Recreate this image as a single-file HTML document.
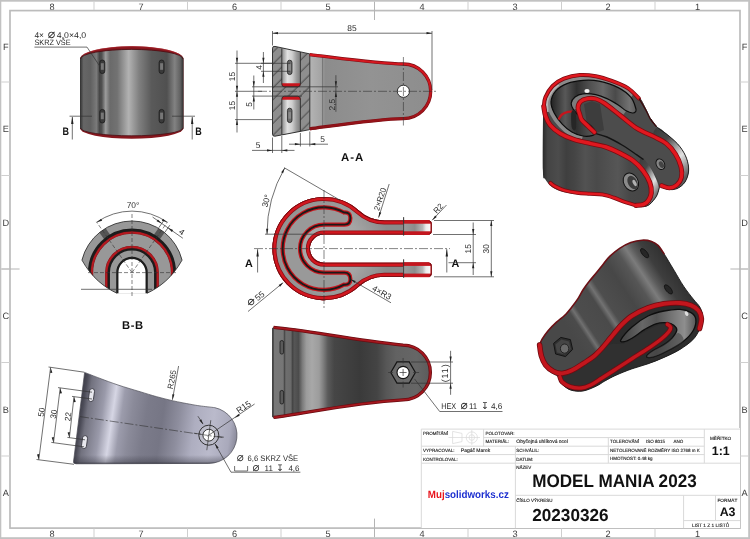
<!DOCTYPE html>
<html lang="cs">
<head>
<meta charset="utf-8">
<title>MODEL MANIA 2023 - 20230326</title>
<style>
html,body{margin:0;padding:0;background:#fff;}
body{width:750px;height:539px;overflow:hidden;}
svg{display:block;font-family:"Liberation Sans",sans-serif;will-change:transform;text-rendering:geometricPrecision;}
.t{fill:#2a2a2a;}
.sy{fill:#2a2a2a;font-family:"DejaVu Sans","Liberation Sans",sans-serif;}
.tb{fill:#111;font-weight:bold;}
.z{fill:#3c3c3c;}
.d{stroke:#333;stroke-width:.7;fill:none;}
.dl{stroke:#555;stroke-width:.55;fill:none;}
.c{stroke:#333;stroke-width:.6;fill:none;stroke-dasharray:9 2 2 2;}
.h{stroke:#333;stroke-width:.6;fill:none;stroke-dasharray:4 2;}
.tl{stroke:#d9d9d9;stroke-width:1;fill:none;}
.fr{stroke:#bcbcbc;fill:none;}
.s{fill:#1a1a1a;font-size:4.5px;stroke:#1a1a1a;stroke-width:.12;}
</style>
</head>
<body>
<svg width="750" height="539" viewBox="0 0 750 539">
<defs>
<linearGradient id="gv1" x1="80" x2="183.5" y1="0" y2="0" gradientUnits="userSpaceOnUse">
<stop offset="0" stop-color="#303030"/><stop offset=".035" stop-color="#666"/><stop offset=".1" stop-color="#606060"/>
<stop offset=".16" stop-color="#7a7a7a"/><stop offset=".188" stop-color="#474747"/><stop offset=".21" stop-color="#505050"/>
<stop offset=".248" stop-color="#9c9c9c"/><stop offset=".29" stop-color="#6a6a6a"/><stop offset=".36" stop-color="#727272"/>
<stop offset=".47" stop-color="#b2b2b2"/><stop offset=".57" stop-color="#808080"/><stop offset=".69" stop-color="#5a5a5a"/>
<stop offset=".84" stop-color="#505050"/><stop offset=".915" stop-color="#828282"/><stop offset=".97" stop-color="#606060"/>
<stop offset="1" stop-color="#2e2e2e"/></linearGradient>
<pattern id="hat" width="8.4" height="8.4" patternUnits="userSpaceOnUse" patternTransform="rotate(-45)">
<rect width="8.4" height="8.4" fill="#8e8e8e"/><line x1="0" y1="3" x2="8.4" y2="3" stroke="#2b2b2b" stroke-width=".7"/></pattern>
<linearGradient id="gaa" x1="310" x2="432" y1="0" y2="0" gradientUnits="userSpaceOnUse">
<stop offset="0" stop-color="#b4b4b4"/><stop offset=".09" stop-color="#a4a4a4"/><stop offset=".125" stop-color="#8c8c8c"/>
<stop offset=".5" stop-color="#939393"/><stop offset="1" stop-color="#8d8d8d"/></linearGradient>
<linearGradient id="gslot" x1="281.8" x2="300.4" y1="0" y2="0" gradientUnits="userSpaceOnUse">
<stop offset="0" stop-color="#8a8a8a"/><stop offset=".3" stop-color="#e2e2e2"/><stop offset=".55" stop-color="#cfcfcf"/>
<stop offset=".8" stop-color="#9a9a9a"/><stop offset="1" stop-color="#7c7c7c"/></linearGradient>
<linearGradient id="grim" x1="0" x2="0" y1="56" y2="128" gradientUnits="userSpaceOnUse">
<stop offset="0" stop-color="#d6171f"/><stop offset=".45" stop-color="#cc161e"/><stop offset=".75" stop-color="#a8141b"/><stop offset="1" stop-color="#8c1218"/></linearGradient>
<clipPath id="caa"><path d="M272.5,48.2 Q272.5,46 275,46.4 L309.8,53.9 L309.8,129.6 L275,136.2 Q272.5,136.5 272.5,134.2Z"/></clipPath>
<clipPath id="cbb"><path d="M81.93,260.12 A51.6,51.6 0 0 1 182.07,260.12 C172,278 160,287 147,293.3 L117,293.3 C104,287 92,278 81.93,260.12Z"/></clipPath>
<radialGradient id="gtop" cx="330" cy="248.6" r="60" gradientUnits="userSpaceOnUse">
<stop offset="0" stop-color="#b0b0b0"/><stop offset=".55" stop-color="#a4a4a4"/><stop offset="1" stop-color="#8a8a8a"/></radialGradient>
<linearGradient id="gleg" x1="403.6" x2="431.6" y1="0" y2="0" gradientUnits="userSpaceOnUse">
<stop offset="0" stop-color="#9c9c9c"/><stop offset=".4" stop-color="#8c8c8c"/><stop offset=".68" stop-color="#b8b8b8"/><stop offset=".8" stop-color="#ececec"/><stop offset=".93" stop-color="#f7f7f7"/><stop offset="1" stop-color="#e9b4b4"/></linearGradient>
<clipPath id="ctop"><path d="M428.4,220.5 L384.33,220.5 A37.6,37.6 0 0 1 358.9,210.59 A51.6,51.6 0 1 0 358.9,286.61 A37.6,37.6 0 0 1 384.33,276.8 L428.4,276.8 Q431.6,276.8 431.6,273.6 L431.6,265.9 Q431.6,262.7 428.4,262.7 L324,262.7 A14.1,14.1 0 0 1 324,234.5 L428.4,234.5 Q431.6,234.5 431.6,231.3 L431.6,223.7 Q431.6,220.5 428.4,220.5Z"/></clipPath>
<linearGradient id="gside" x1="77" x2="239" y1="414" y2="438" gradientUnits="userSpaceOnUse">
<stop offset="0" stop-color="#383842"/><stop offset=".03" stop-color="#4c4c58"/><stop offset=".06" stop-color="#72727f"/>
<stop offset=".15" stop-color="#9a9aaa"/><stop offset=".215" stop-color="#d6d6e4"/><stop offset=".27" stop-color="#9c9cac"/>
<stop offset=".33" stop-color="#8b8b9a"/><stop offset=".42" stop-color="#7b7b8a"/><stop offset=".52" stop-color="#767685"/>
<stop offset=".62" stop-color="#8e8e9e"/><stop offset=".72" stop-color="#aeaec0"/><stop offset=".83" stop-color="#babacb"/>
<stop offset=".94" stop-color="#a9a9bb"/><stop offset="1" stop-color="#808090"/></linearGradient>
<linearGradient id="gsideb" x1="0" x2="0" y1="455" y2="464.5" gradientUnits="userSpaceOnUse">
<stop offset="0" stop-color="#30303a" stop-opacity="0"/><stop offset=".7" stop-color="#30303a" stop-opacity=".35"/><stop offset="1" stop-color="#30303a" stop-opacity=".9"/></linearGradient>
<linearGradient id="gbot" x1="272.3" x2="431" y1="0" y2="0" gradientUnits="userSpaceOnUse">
<stop offset="0" stop-color="#333"/><stop offset=".012" stop-color="#787878"/><stop offset=".068" stop-color="#767676"/>
<stop offset=".077" stop-color="#4a4a4a"/><stop offset=".086" stop-color="#6e6e6e"/><stop offset=".118" stop-color="#6a6a6a"/>
<stop offset=".126" stop-color="#444"/><stop offset=".14" stop-color="#565656"/><stop offset=".165" stop-color="#4c4c4c"/>
<stop offset=".19" stop-color="#7c7c7c"/><stop offset=".215" stop-color="#9c9c9c"/><stop offset=".25" stop-color="#a8a8a8"/>
<stop offset=".295" stop-color="#9c9c9c"/><stop offset=".32" stop-color="#808080"/><stop offset=".35" stop-color="#5a5a5a"/>
<stop offset=".39" stop-color="#464646"/><stop offset=".55" stop-color="#3a3a3a"/><stop offset=".66" stop-color="#444"/>
<stop offset=".72" stop-color="#575757"/><stop offset=".78" stop-color="#626262"/><stop offset=".91" stop-color="#666"/>
<stop offset="1" stop-color="#5a5a5a"/></linearGradient>
<linearGradient id="gi1" x1="543" x2="660" y1="0" y2="0" gradientUnits="userSpaceOnUse">
<stop offset="0" stop-color="#2c2c2c"/><stop offset=".04" stop-color="#444"/><stop offset=".13" stop-color="#4c4c4c"/>
<stop offset=".2" stop-color="#3f3f3f"/><stop offset=".27" stop-color="#454545"/><stop offset=".36" stop-color="#525252"/>
<stop offset=".46" stop-color="#4a4a4a"/><stop offset=".55" stop-color="#505050"/><stop offset=".64" stop-color="#565656"/><stop offset=".74" stop-color="#484848"/>
<stop offset="1" stop-color="#444"/></linearGradient>
<linearGradient id="gi1b" x1="0" x2=".55" y1="0" y2="1">
<stop offset="0" stop-color="#3a3a3a"/><stop offset=".3" stop-color="#484848"/><stop offset=".5" stop-color="#9c9c9c"/><stop offset=".68" stop-color="#e2e2e2"/>
<stop offset=".84" stop-color="#a0a0a0"/><stop offset="1" stop-color="#5a5a5a"/></linearGradient>
<linearGradient id="gi1w" x1="552" x2="640" y1="0" y2="0" gradientUnits="userSpaceOnUse">
<stop offset="0" stop-color="#262626"/><stop offset=".15" stop-color="#585858"/><stop offset=".28" stop-color="#303030"/>
<stop offset=".42" stop-color="#4e4e4e"/><stop offset=".58" stop-color="#686868"/><stop offset=".72" stop-color="#4a4a4a"/>
<stop offset=".88" stop-color="#727272"/><stop offset="1" stop-color="#505050"/></linearGradient>
<linearGradient id="gi2" x1="560" y1="317" x2="664.4" y2="248.2" gradientUnits="userSpaceOnUse">
<stop offset="0" stop-color="#484848"/><stop offset=".085" stop-color="#4b4b4b"/><stop offset=".117" stop-color="#707070"/>
<stop offset=".15" stop-color="#4d4d4d"/><stop offset=".3" stop-color="#4a4a4a"/><stop offset=".34" stop-color="#727272"/>
<stop offset=".38" stop-color="#4e4e4e"/><stop offset=".55" stop-color="#474747"/><stop offset=".67" stop-color="#565656"/>
<stop offset=".74" stop-color="#7c7c7c"/><stop offset=".79" stop-color="#5c5c5c"/><stop offset=".86" stop-color="#3e3e3e"/>
<stop offset="1" stop-color="#2e2e2e"/></linearGradient>
<linearGradient id="gi2w" x1="625" y1="0" x2="695" y2="0" gradientUnits="userSpaceOnUse">
<stop offset="0" stop-color="#484848"/><stop offset=".25" stop-color="#676767"/><stop offset=".45" stop-color="#545454"/>
<stop offset=".7" stop-color="#797979"/><stop offset=".85" stop-color="#8e8e8e"/><stop offset="1" stop-color="#5c5c5c"/></linearGradient>
</defs>
<rect x="0" y="0" width="750" height="539" fill="#fff"/>
<rect x="0" y="0" width="750" height="1.7" fill="#c2c2c2"/>
<rect x="0" y="537.2" width="750" height="1.8" fill="#c2c2c2"/>
<rect x="0" y="0" width="1.3" height="539" fill="#c2c2c2"/>
<rect x="748.2" y="0" width="1.8" height="539" fill="#c2c2c2"/>
<rect class="fr" x="10" y="10.6" width="730" height="517.5" stroke-width="1.7"/>
<line x1="94" y1="1.7" x2="94" y2="10" stroke="#cfcfcf" stroke-width="1"/>
<line x1="94" y1="528.5" x2="94" y2="537.2" stroke="#cfcfcf" stroke-width="1"/>
<line x1="187.5" y1="1.7" x2="187.5" y2="10" stroke="#cfcfcf" stroke-width="1"/>
<line x1="187.5" y1="528.5" x2="187.5" y2="537.2" stroke="#cfcfcf" stroke-width="1"/>
<line x1="281" y1="1.7" x2="281" y2="10" stroke="#cfcfcf" stroke-width="1"/>
<line x1="281" y1="528.5" x2="281" y2="537.2" stroke="#cfcfcf" stroke-width="1"/>
<line x1="374.5" y1="1.7" x2="374.5" y2="10" stroke="#cfcfcf" stroke-width="1"/>
<line x1="374.5" y1="528.5" x2="374.5" y2="537.2" stroke="#cfcfcf" stroke-width="1"/>
<line x1="468" y1="1.7" x2="468" y2="10" stroke="#cfcfcf" stroke-width="1"/>
<line x1="468" y1="528.5" x2="468" y2="537.2" stroke="#cfcfcf" stroke-width="1"/>
<line x1="561.5" y1="1.7" x2="561.5" y2="10" stroke="#cfcfcf" stroke-width="1"/>
<line x1="561.5" y1="528.5" x2="561.5" y2="537.2" stroke="#cfcfcf" stroke-width="1"/>
<line x1="655" y1="1.7" x2="655" y2="10" stroke="#cfcfcf" stroke-width="1"/>
<line x1="655" y1="528.5" x2="655" y2="537.2" stroke="#cfcfcf" stroke-width="1"/>
<line x1="1.3" y1="82" x2="10" y2="82" stroke="#cfcfcf" stroke-width="1"/>
<line x1="740" y1="82" x2="748.2" y2="82" stroke="#cfcfcf" stroke-width="1"/>
<line x1="1.3" y1="175.5" x2="10" y2="175.5" stroke="#cfcfcf" stroke-width="1"/>
<line x1="740" y1="175.5" x2="748.2" y2="175.5" stroke="#cfcfcf" stroke-width="1"/>
<line x1="1.3" y1="269" x2="10" y2="269" stroke="#cfcfcf" stroke-width="1"/>
<line x1="740" y1="269" x2="748.2" y2="269" stroke="#cfcfcf" stroke-width="1"/>
<line x1="1.3" y1="362.5" x2="10" y2="362.5" stroke="#cfcfcf" stroke-width="1"/>
<line x1="740" y1="362.5" x2="748.2" y2="362.5" stroke="#cfcfcf" stroke-width="1"/>
<line x1="1.3" y1="456" x2="10" y2="456" stroke="#cfcfcf" stroke-width="1"/>
<line x1="740" y1="456" x2="748.2" y2="456" stroke="#cfcfcf" stroke-width="1"/>
<path d="M374.5,1.7 L374.5,20 M374.5,518.6 L374.5,537.2 M1.3,269 L19.6,269 M730.4,269 L748.2,269" stroke="#b4b4b4" stroke-width="1" fill="none"/>
<text class="z" x="52" y="9.6" font-size="9.2" text-anchor="middle">8</text>
<text class="z" x="52" y="536.9" font-size="9.2" text-anchor="middle">8</text>
<text class="z" x="141" y="9.6" font-size="9.2" text-anchor="middle">7</text>
<text class="z" x="141" y="536.9" font-size="9.2" text-anchor="middle">7</text>
<text class="z" x="234.5" y="9.6" font-size="9.2" text-anchor="middle">6</text>
<text class="z" x="234.5" y="536.9" font-size="9.2" text-anchor="middle">6</text>
<text class="z" x="328" y="9.6" font-size="9.2" text-anchor="middle">5</text>
<text class="z" x="328" y="536.9" font-size="9.2" text-anchor="middle">5</text>
<text class="z" x="422" y="9.6" font-size="9.2" text-anchor="middle">4</text>
<text class="z" x="422" y="536.9" font-size="9.2" text-anchor="middle">4</text>
<text class="z" x="515" y="9.6" font-size="9.2" text-anchor="middle">3</text>
<text class="z" x="515" y="536.9" font-size="9.2" text-anchor="middle">3</text>
<text class="z" x="608" y="9.6" font-size="9.2" text-anchor="middle">2</text>
<text class="z" x="608" y="536.9" font-size="9.2" text-anchor="middle">2</text>
<text class="z" x="697.5" y="9.6" font-size="9.2" text-anchor="middle">1</text>
<text class="z" x="697.5" y="536.9" font-size="9.2" text-anchor="middle">1</text>
<text class="z" x="5.7" y="50.2" font-size="9.2" text-anchor="middle">F</text>
<text class="z" x="744.5" y="50.2" font-size="9.2" text-anchor="middle">F</text>
<text class="z" x="5.7" y="132.2" font-size="9.2" text-anchor="middle">E</text>
<text class="z" x="744.5" y="132.2" font-size="9.2" text-anchor="middle">E</text>
<text class="z" x="5.7" y="225.7" font-size="9.2" text-anchor="middle">D</text>
<text class="z" x="744.5" y="225.7" font-size="9.2" text-anchor="middle">D</text>
<text class="z" x="5.7" y="319.2" font-size="9.2" text-anchor="middle">C</text>
<text class="z" x="744.5" y="319.2" font-size="9.2" text-anchor="middle">C</text>
<text class="z" x="5.7" y="412.7" font-size="9.2" text-anchor="middle">B</text>
<text class="z" x="744.5" y="412.7" font-size="9.2" text-anchor="middle">B</text>
<text class="z" x="5.7" y="495.7" font-size="9.2" text-anchor="middle">A</text>
<text class="z" x="744.5" y="495.7" font-size="9.2" text-anchor="middle">A</text>
<g id="view-front">
<path d="M80,59 A51.75,12.8 0 0 1 183.5,59 L183.5,128 A51.75,10.8 0 0 1 80,128Z" fill="#86161d"/>
<path d="M80,59 A51.75,9.6 0 0 1 183.5,59 L183.5,128 A51.75,7.8 0 0 1 80,128Z" fill="url(#gv1)"/>
<path d="M80.5,59 A51.25,9.6 0 0 1 183,59" fill="none" stroke="#4a0d11" stroke-width=".8"/>
<path d="M80.5,128 A51.25,7.8 0 0 0 183,128" fill="none" stroke="#4a0d11" stroke-width=".8"/>
<path d="M84,54.5 A51.75,12.8 0 0 1 179.5,54.5" fill="none" stroke="#a82028" stroke-width=".7"/>
<rect x="99.8" y="60" width="5" height="13.6" rx="2.5" fill="#3a3a3a" stroke="#1c1c1c" stroke-width=".8"/>
<rect x="100.8" y="63.2" width="3" height="6.6" fill="#777"/>
<rect x="99.8" y="109.4" width="5" height="13.6" rx="2.5" fill="#3a3a3a" stroke="#1c1c1c" stroke-width=".8"/>
<rect x="100.8" y="112.6" width="3" height="6.6" fill="#777"/>
<rect x="159.1" y="60" width="5" height="13.6" rx="2.5" fill="#3a3a3a" stroke="#1c1c1c" stroke-width=".8"/>
<rect x="160.1" y="63.2" width="3" height="6.6" fill="#777"/>
<rect x="159.1" y="109.4" width="5" height="13.6" rx="2.5" fill="#3a3a3a" stroke="#1c1c1c" stroke-width=".8"/>
<rect x="160.1" y="112.6" width="3" height="6.6" fill="#777"/>
<line class="d" x1="69.5" y1="116.2" x2="92" y2="116.2"/>
<line class="d" x1="172" y1="116.2" x2="195" y2="116.2"/>
<line class="d" x1="72.3" y1="117" x2="72.3" y2="139.5"/>
<line class="d" x1="192.2" y1="117" x2="192.2" y2="139.5"/>
<polygon fill="#222" points="72.3,116.4 73.5,123.9 71.1,123.9"/>
<polygon fill="#222" points="192.2,116.4 193.4,123.9 191,123.9"/>
<text class="tb" x="65.8" y="134.9" font-size="10.8" text-anchor="middle" textLength="6.5" lengthAdjust="spacingAndGlyphs">B</text>
<text class="tb" x="198.4" y="134.9" font-size="10.8" text-anchor="middle" textLength="6.5" lengthAdjust="spacingAndGlyphs">B</text>
<text class="t" x="34.4" y="37.7" font-size="8.4">4×</text>
<text class="sy" x="51.6" y="37.88" font-size="12.47" text-anchor="middle">⌀</text>
<text class="t" x="56.8" y="37.7" font-size="8.4" textLength="29.4" lengthAdjust="spacingAndGlyphs">4,0×4,0</text>
<text class="t" x="34.4" y="45.3" font-size="7.8" textLength="36.2" lengthAdjust="spacingAndGlyphs">SKRZ VŠE</text>
<polyline class="d" points="34.4,47.1 87,47.1 100.3,67"/>
</g>
<g id="section-aa">
<path d="M309.8,53.9 C340,57.5 380,63.1 403.4,63.1 A28.2,28.2 0 0 1 403.4,119.5 C380,119.5 340,125.5 309.8,129.6Z" fill="url(#gaa)"/>
<line class="dl" x1="322.6" y1="57" x2="322.6" y2="126.6"/>
<g clip-path="url(#caa)">
<rect x="270" y="44" width="42" height="95" fill="url(#hat)"/>
<rect x="281.8" y="44" width="18.6" height="42.8" fill="url(#gslot)"/>
<rect x="281.8" y="96.2" width="18.6" height="42.8" fill="url(#gslot)"/>
</g>
<path d="M281.8,83.2 L300.4,83.2 L300.4,84.2 Q300.4,86.9 297.6,86.9 L284.6,86.9 Q281.8,86.9 281.8,84.2Z" fill="#c8151d"/>
<path d="M281.8,99.8 L300.4,99.8 L300.4,98.9 Q300.4,96.2 297.6,96.2 L284.6,96.2 Q281.8,96.2 281.8,98.9Z" fill="#c8151d"/>
<path d="M281.8,48.5 L281.8,84.2 Q281.8,86.9 284.6,86.9 L297.6,86.9 Q300.4,86.9 300.4,84.2 L300.4,52" fill="none" stroke="#222" stroke-width=".8"/>
<path d="M281.8,134.5 L281.8,98.9 Q281.8,96.2 284.6,96.2 L297.6,96.2 Q300.4,96.2 300.4,98.9 L300.4,131.3" fill="none" stroke="#222" stroke-width=".8"/>
<rect x="287.4" y="60.2" width="4.6" height="14.4" rx="2.3" fill="#6a6a6a" stroke="#1e1e1e" stroke-width=".8"/>
<rect x="288.4" y="64.1" width="2.6" height="6.6" fill="#8a8a8a"/>
<rect x="287.4" y="108.2" width="4.6" height="14.4" rx="2.3" fill="#6a6a6a" stroke="#1e1e1e" stroke-width=".8"/>
<rect x="288.4" y="112.1" width="2.6" height="6.6" fill="#8a8a8a"/>
<path d="M272.5,48.2 Q272.5,46 275,46.4 L309.8,53.9 L309.8,129.6 L275,136.2 Q272.5,136.5 272.5,134.2Z" fill="none" stroke="#222" stroke-width=".9"/>
<path d="M309.8,54.6 C340,58.2 380,63.9 403.4,64 A27.3,27.3 0 0 1 403.4,118.6 C380,118.7 340,124.8 309.8,128.9" fill="none" stroke="#7d0d13" stroke-width="3.3"/>
<path d="M309.8,54.6 C340,58.2 380,63.9 403.4,64 A27.3,27.3 0 0 1 403.4,118.6 C380,118.7 340,124.8 309.8,128.9" fill="none" stroke="url(#grim)" stroke-width="2.1"/>
<circle cx="403.4" cy="91.3" r="6.1" fill="#fff" stroke="#222" stroke-width=".9"/>
<line class="c" x1="258" y1="91.3" x2="437" y2="91.3"/>
<line class="c" x1="403.4" y1="57" x2="403.4" y2="125.5"/>
<line class="d" x1="272.5" y1="31" x2="272.5" y2="45.5"/>
<line class="d" x1="432" y1="31" x2="432" y2="90"/>
<line class="d" x1="272.5" y1="33.2" x2="432" y2="33.2"/>
<polygon fill="#222" points="272.5,33.2 278,32.1 278,34.3"/>
<polygon fill="#222" points="432,33.2 426.5,34.3 426.5,32.1"/>
<text class="t" x="352" y="30.6" font-size="8.4" text-anchor="middle">85</text>
<line class="d" x1="237" y1="50.5" x2="237" y2="132.5"/>
<line class="d" x1="235" y1="63.3" x2="273" y2="63.3"/>
<line class="d" x1="235" y1="119.6" x2="273" y2="119.6"/>
<line class="d" x1="235" y1="91.3" x2="262" y2="91.3"/>
<polygon fill="#222" points="237,63.3 235.9,57.8 238.1,57.8"/>
<polygon fill="#222" points="237,91.3 238.1,96.8 235.9,96.8"/>
<polygon fill="#222" points="237,91.3 235.9,85.8 238.1,85.8"/>
<polygon fill="#222" points="237,119.6 238.1,125.1 235.9,125.1"/>
<text class="t" x="234.5" y="76.5" font-size="8.4" text-anchor="middle" transform="rotate(-90 234.5 76.5)">15</text>
<text class="t" x="234.5" y="105.5" font-size="8.4" text-anchor="middle" transform="rotate(-90 234.5 105.5)">15</text>
<line class="d" x1="263.4" y1="52" x2="263.4" y2="83"/>
<line class="d" x1="261" y1="63.3" x2="290" y2="63.3"/>
<line class="d" x1="261" y1="71.3" x2="290" y2="71.3"/>
<polygon fill="#222" points="263.4,63.3 262.3,57.8 264.5,57.8"/>
<polygon fill="#222" points="263.4,71.3 264.5,76.8 262.3,76.8"/>
<text class="t" x="261.5" y="67.5" font-size="8.4" text-anchor="middle" transform="rotate(-90 261.5 67.5)">4</text>
<line class="d" x1="253.8" y1="75.5" x2="253.8" y2="109.5"/>
<line class="d" x1="252" y1="86.8" x2="338" y2="86.8"/>
<line class="d" x1="252" y1="96.1" x2="302" y2="96.1"/>
<polygon fill="#222" points="253.8,86.8 252.7,81.3 254.9,81.3"/>
<polygon fill="#222" points="253.8,96.1 254.9,101.6 252.7,101.6"/>
<text class="t" x="251.5" y="104.5" font-size="8.4" text-anchor="middle" transform="rotate(-90 251.5 104.5)">5</text>
<line class="d" x1="335.9" y1="75.2" x2="335.9" y2="111.8"/>
<polygon fill="#222" points="335.9,86.8 334.8,81.3 337,81.3"/>
<polygon fill="#222" points="335.9,91.4 337,96.9 334.8,96.9"/>
<text class="t" x="334.6" y="104.6" font-size="8.4" text-anchor="middle" transform="rotate(-90 334.6 104.6)">2,5</text>
<line class="d" x1="272.5" y1="137.5" x2="272.5" y2="153"/>
<line class="d" x1="281.8" y1="136" x2="281.8" y2="153"/>
<line class="d" x1="252" y1="150.4" x2="294.5" y2="150.4"/>
<polygon fill="#222" points="272.5,150.4 267,151.5 267,149.3"/>
<polygon fill="#222" points="281.8,150.4 287.3,149.3 287.3,151.5"/>
<text class="t" x="258" y="148.4" font-size="8.4" text-anchor="middle">5</text>
<line class="d" x1="300.4" y1="133" x2="300.4" y2="146.5"/>
<line class="d" x1="309.8" y1="131.5" x2="309.8" y2="146.5"/>
<line class="d" x1="289" y1="144.2" x2="328" y2="144.2"/>
<polygon fill="#222" points="300.4,144.2 294.9,145.3 294.9,143.1"/>
<polygon fill="#222" points="309.8,144.2 315.3,143.1 315.3,145.3"/>
<text class="t" x="322.5" y="141.8" font-size="8.4" text-anchor="middle">5</text>
<text class="tb" x="352.6" y="160.8" font-size="11.4" text-anchor="middle" letter-spacing="1">A-A</text>
</g>
<g id="section-bb">
<path d="M81.93,260.12 A51.6,51.6 0 0 1 182.07,260.12 C172,278 160,287 147,293.3 L117,293.3 C104,287 92,278 81.93,260.12Z" fill="#989898"/>
<g clip-path="url(#cbb)">
<rect x="128.2" y="220.5" width="7.6" height="11" fill="#555" transform="rotate(-35 132 272.6)"/>
<rect x="128.2" y="220.5" width="7.6" height="11" fill="#555" transform="rotate(35 132 272.6)"/>
<path d="M91.4,300 L91.4,272.6 A40.6,40.6 0 0 1 172.6,272.6 L172.6,300" fill="none" stroke="#7c1a1e" stroke-width="3.6"/>
<path d="M91.9,300 L91.9,272.6 A40.1,40.1 0 0 1 172.1,272.6 L172.1,300" fill="none" stroke="#b4181f" stroke-width="1.9"/>
<path d="M89.3,300 L89.3,272.6 A42.7,42.7 0 0 1 174.7,272.6 L174.7,300" fill="none" stroke="#1c1c1c" stroke-width="2.7"/>
<path d="M106.8,300 L106.8,272.6 A25.2,25.2 0 0 1 157.2,272.6 L157.2,300" fill="none" stroke="#7c1a1e" stroke-width="3.4"/>
<path d="M106.4,300 L106.4,272.6 A25.6,25.6 0 0 1 157.6,272.6 L157.6,300" fill="none" stroke="#b4181f" stroke-width="1.9"/>
<path d="M108.8,300 L108.8,272.6 A23.2,23.2 0 0 1 155.2,272.6 L155.2,300" fill="none" stroke="#1c1c1c" stroke-width="2.3"/>
<path d="M118.2,300 L118.2,272.6 A13.8,13.8 0 0 1 145.8,272.6 L145.8,300Z" fill="#fff"/>
<path d="M117.3,300 L117.3,272.6 A14.7,14.7 0 0 1 146.7,272.6 L146.7,300" fill="none" stroke="#1c1c1c" stroke-width="2.2"/>
</g>
<path d="M117,293.3 C104,287 92,278 81.93,260.12 A51.6,51.6 0 0 1 182.07,260.12 C172,278 160,287 147,293.3" fill="none" stroke="#222" stroke-width=".8"/>
<line class="h" x1="132" y1="214" x2="132" y2="297"/>
<line class="h" x1="88" y1="272.6" x2="176" y2="272.6"/>
<line class="h" x1="132" y1="272.6" x2="96.44" y2="221.81"/>
<line class="h" x1="132" y1="272.6" x2="167.56" y2="221.81"/>
<line class="d" x1="81" y1="289.3" x2="152" y2="289.3"/>
<path class="d" d="M96.73,222.22 A61.5,61.5 0 0 1 167.27,222.22"/>
<polygon fill="#222" points="96.73,222.22 101.13,218.75 102.12,220.71"/>
<polygon fill="#222" points="167.27,222.22 161.88,220.71 162.87,218.75"/>
<text class="t" x="133" y="208" font-size="8.4" text-anchor="middle">70°</text>
<line class="d" x1="158.71" y1="227.82" x2="163.59" y2="220.86"/>
<line class="d" x1="164.94" y1="232.18" x2="169.81" y2="225.22"/>
<line class="d" x1="152.58" y1="217.06" x2="182.89" y2="238.28"/>
<polygon fill="#222" points="161.75,223.48 156.62,221.23 157.88,219.43"/>
<polygon fill="#222" points="167.98,227.84 173.11,230.1 171.85,231.9"/>
<text class="t" x="180.18" y="234.31" font-size="8.4" text-anchor="middle" transform="rotate(35 180.18 234.31)">4</text>
<text class="tb" x="132.8" y="329" font-size="11.2" text-anchor="middle" letter-spacing=".6">B-B</text>
</g>
<g id="view-top">
<path d="M428.4,220.5 L384.33,220.5 A37.6,37.6 0 0 1 358.9,210.59 A51.6,51.6 0 1 0 358.9,286.61 A37.6,37.6 0 0 1 384.33,276.8 L428.4,276.8 Q431.6,276.8 431.6,273.6 L431.6,265.9 Q431.6,262.7 428.4,262.7 L324,262.7 A14.1,14.1 0 0 1 324,234.5 L428.4,234.5 Q431.6,234.5 431.6,231.3 L431.6,223.7 Q431.6,220.5 428.4,220.5Z" fill="url(#gtop)"/>
<rect x="403.6" y="221.5" width="27" height="12" fill="url(#gleg)"/>
<rect x="403.6" y="263.7" width="27" height="12.1" fill="url(#gleg)"/>
<path d="M344,212.5 Q350.4,212 350.4,218 Q350.4,224.6 344.5,224.6 L324,224.6 A24,24 0 0 0 324,272.6 L344.5,272.6 Q350.4,272.6 350.4,279.2 Q350.4,285.2 344,284.7 A41.3,41.3 0 1 1 344,212.5Z" fill="#999" stroke="#c8161d" stroke-width="4.2"/>
<path d="M344,212.5 Q350.4,212 350.4,218 Q350.4,224.6 344.5,224.6 L324,224.6 A24,24 0 0 0 324,272.6 L344.5,272.6 Q350.4,272.6 350.4,279.2 Q350.4,285.2 344,284.7 A41.3,41.3 0 1 1 344,212.5Z" fill="none" stroke="#1a1a1a" stroke-width="1.9"/>
<g clip-path="url(#ctop)">
<path d="M428.4,220.5 L384.33,220.5 A37.6,37.6 0 0 1 358.9,210.59 A51.6,51.6 0 1 0 358.9,286.61 A37.6,37.6 0 0 1 384.33,276.8 L428.4,276.8 Q431.6,276.8 431.6,273.6 L431.6,265.9 Q431.6,262.7 428.4,262.7 L324,262.7 A14.1,14.1 0 0 1 324,234.5 L428.4,234.5 Q431.6,234.5 431.6,231.3 L431.6,223.7 Q431.6,220.5 428.4,220.5Z" fill="none" stroke="#8e1016" stroke-width="8.2"/>
<path d="M428.4,220.5 L384.33,220.5 A37.6,37.6 0 0 1 358.9,210.59 A51.6,51.6 0 1 0 358.9,286.61 A37.6,37.6 0 0 1 384.33,276.8 L428.4,276.8 Q431.6,276.8 431.6,273.6 L431.6,265.9 Q431.6,262.7 428.4,262.7 L324,262.7 A14.1,14.1 0 0 1 324,234.5 L428.4,234.5 Q431.6,234.5 431.6,231.3 L431.6,223.7 Q431.6,220.5 428.4,220.5Z" fill="none" stroke="#d2171f" stroke-width="6.6"/>
<path d="M428.4,220.5 L384.33,220.5 A37.6,37.6 0 0 1 358.9,210.59 A51.6,51.6 0 1 0 358.9,286.61 A37.6,37.6 0 0 1 384.33,276.8 L428.4,276.8 Q431.6,276.8 431.6,273.6 L431.6,265.9 Q431.6,262.7 428.4,262.7 L324,262.7 A14.1,14.1 0 0 1 324,234.5 L428.4,234.5 Q431.6,234.5 431.6,231.3 L431.6,223.7 Q431.6,220.5 428.4,220.5Z" fill="none" stroke="#6a0c10" stroke-width="1.7"/>
</g>
<path d="M403.6,221.9 L429.6,221.9" stroke="#c4161e" stroke-width="3.6" fill="none"/>
<path d="M403.6,233.1 L429.6,233.1" stroke="#c4161e" stroke-width="3.6" fill="none"/>
<line class="d" x1="403.6" y1="217.2" x2="403.6" y2="235.5"/>
<path d="M403.6,264.1 L429.6,264.1" stroke="#c4161e" stroke-width="3.6" fill="none"/>
<path d="M403.6,275.4 L429.6,275.4" stroke="#c4161e" stroke-width="3.6" fill="none"/>
<line class="d" x1="403.6" y1="259.4" x2="403.6" y2="277.8"/>
<rect x="403.6" y="223.7" width="26.9" height="7.6" fill="url(#gleg)"/>
<line class="d" x1="403.6" y1="217.2" x2="403.6" y2="235.5"/>
<rect x="403.6" y="265.9" width="26.9" height="7.7" fill="url(#gleg)"/>
<line class="d" x1="403.6" y1="259.4" x2="403.6" y2="277.8"/>
<line class="c" x1="254" y1="248.6" x2="450" y2="248.6"/>
<line class="c" x1="324" y1="190" x2="324" y2="308"/>
<line class="d" x1="257.6" y1="249.2" x2="257.6" y2="272.5"/>
<polygon fill="#222" points="257.6,249 258.8,256.5 256.4,256.5"/>
<line class="d" x1="446.8" y1="249.2" x2="446.8" y2="272.5"/>
<polygon fill="#222" points="446.8,249 448,256.5 445.6,256.5"/>
<text class="tb" x="248.8" y="267.2" font-size="10.8" text-anchor="middle">A</text>
<text class="tb" x="455.4" y="267.2" font-size="10.8" text-anchor="middle">A</text>
<line class="d" x1="433" y1="234.5" x2="476" y2="234.5"/>
<line class="d" x1="448.5" y1="262.7" x2="476" y2="262.7"/>
<line class="d" x1="473.2" y1="222.5" x2="473.2" y2="275"/>
<polygon fill="#222" points="473.2,234.5 472.1,229 474.3,229"/>
<polygon fill="#222" points="473.2,262.7 474.3,268.2 472.1,268.2"/>
<text class="t" x="470.6" y="248.8" font-size="8.4" text-anchor="middle" transform="rotate(-90 470.6 248.8)">15</text>
<line class="d" x1="434" y1="220.5" x2="494" y2="220.5"/>
<line class="d" x1="434" y1="276.8" x2="494" y2="276.8"/>
<line class="d" x1="491.3" y1="220.5" x2="491.3" y2="276.8"/>
<polygon fill="#222" points="491.3,220.5 492.4,226 490.2,226"/>
<polygon fill="#222" points="491.3,276.8 490.2,271.3 492.4,271.3"/>
<text class="t" x="488.7" y="248.8" font-size="8.4" text-anchor="middle" transform="rotate(-90 488.7 248.8)">30</text>
<line class="d" x1="432.2" y1="220.2" x2="446.5" y2="205"/>
<polygon fill="#222" points="432.2,220.2 435.15,215.43 436.76,216.93"/>
<text class="t" x="440.2" y="210.2" font-size="8" text-anchor="middle" transform="rotate(-47 440.2 210.2)">R2</text>
<line class="d" x1="378.6" y1="217.6" x2="389.2" y2="184"/>
<polygon fill="#222" points="378.6,217.6 379.2,212.02 381.3,212.69"/>
<text class="t" x="382.6" y="200" font-size="8" text-anchor="middle" transform="rotate(-72 382.6 200)">2×R20</text>
<line class="d" x1="350.8" y1="279.5" x2="391" y2="302.8"/>
<polygon fill="#222" points="350.4,279.2 355.71,281 354.61,282.9"/>
<text class="t" x="380.4" y="295" font-size="8.4" text-anchor="middle" transform="rotate(30 380.4 295)">4×R3</text>
<line class="d" x1="248" y1="311.5" x2="282.5" y2="283.2"/>
<polygon fill="#222" points="283.6,282.3 280.06,286.65 278.66,284.95"/>
<text class="sy" x="251.2" y="305.37" font-size="12.04" text-anchor="middle">⌀</text>
<text class="t" x="261.4" y="298.2" font-size="8.6" text-anchor="middle" transform="rotate(-38.5 261.4 298.2)">55</text>
<line class="d" x1="265" y1="234.2" x2="322" y2="234.2"/>
<line class="d" x1="284" y1="167.6" x2="340" y2="200.2"/>
<path class="d" d="M267,234.2 A132.3,132.3 0 0 1 284.7,168"/>
<polygon fill="#222" points="267,234.2 266.09,228.66 268.29,228.74"/>
<polygon fill="#222" points="284.7,168 283.09,173.37 281.15,172.34"/>
<text class="t" x="269" y="201.6" font-size="8.4" text-anchor="middle" transform="rotate(-74 269 201.6)">30°</text>
</g>
<g id="view-side">
<path d="M84.6,372.4 C87.17,373.4 94.43,376.3 100,378.4 C105.57,380.5 111.33,382.78 118,385 C124.67,387.22 133.55,389.75 140,391.7 C146.45,393.65 151.13,395.17 156.7,396.7 C162.27,398.23 167.85,399.65 173.4,400.9 C178.95,402.15 185.57,403.37 190,404.2 C194.43,405.03 195.89,405.33 200,405.9 C204.11,406.47 212.22,407.33 214.66,407.62 A28.2,28.2 0 0 1 208.8,463.4 L76,463.8 Q73,463.8 73.6,461Z" fill="url(#gside)" stroke="#4a4a55" stroke-width=".7"/>
<path d="M84.6,372.4 C87.17,373.4 94.43,376.3 100,378.4 C105.57,380.5 111.33,382.78 118,385 C124.67,387.22 133.55,389.75 140,391.7 C146.45,393.65 151.13,395.17 156.7,396.7 C162.27,398.23 167.85,399.65 173.4,400.9 C178.95,402.15 185.57,403.37 190,404.2 C194.43,405.03 195.89,405.33 200,405.9 C204.11,406.47 212.22,407.33 214.66,407.62 A28.2,28.2 0 0 1 208.8,463.4 L76,463.8 Q73,463.8 73.6,461Z" fill="url(#gsideb)"/>
<rect x="89" y="388.6" width="5" height="13" rx="2.5" fill="#e8e8ee" stroke="#33333c" stroke-width=".8" transform="rotate(8 91.5 395)"/>
<rect x="82" y="435.6" width="5" height="13" rx="2.5" fill="#e8e8ee" stroke="#33333c" stroke-width=".8" transform="rotate(8 84.5 442)"/>
<circle cx="208.8" cy="435.2" r="10" fill="#bcbcc9" stroke="#222" stroke-width=".9"/>
<circle cx="208.8" cy="435.2" r="5.9" fill="#fff" stroke="#222" stroke-width=".9"/>
<line class="c" x1="80" y1="416.6" x2="224" y2="437.8"/>
<line class="d" x1="210.8" y1="420.2" x2="206.8" y2="450.2"/>
<line class="d" x1="193.8" y1="433.2" x2="200.8" y2="434.1"/>
<line class="d" x1="216.8" y1="436.3" x2="223.8" y2="437.2"/>
<line class="d" x1="48.5" y1="367" x2="84.2" y2="372.2"/>
<line class="d" x1="36.5" y1="459.5" x2="74" y2="464.3"/>
<line class="d" x1="50.6" y1="367.4" x2="38.8" y2="459.7"/>
<polygon fill="#222" points="50.6,367.4 52.39,372.72 50.21,373"/>
<polygon fill="#222" points="38.8,459.7 37.01,454.38 39.19,454.1"/>
<text class="t" x="44.2" y="412.6" font-size="8.2" text-anchor="middle" transform="rotate(-82.7 44.2 412.6)">50</text>
<line class="d" x1="58" y1="387.6" x2="92" y2="392.2"/>
<line class="d" x1="51.3" y1="442.4" x2="84" y2="446.8"/>
<line class="d" x1="60.2" y1="387.9" x2="53.5" y2="442.7"/>
<polygon fill="#222" points="60.2,387.9 61.99,393.22 59.81,393.5"/>
<polygon fill="#222" points="53.5,442.7 51.71,437.38 53.89,437.1"/>
<text class="t" x="56.4" y="414.6" font-size="8.2" text-anchor="middle" transform="rotate(-82.7 56.4 414.6)">30</text>
<line class="d" x1="72" y1="396.4" x2="92" y2="399"/>
<line class="d" x1="67.4" y1="437.4" x2="85" y2="439.8"/>
<line class="d" x1="74" y1="396.7" x2="69.4" y2="437.7"/>
<polygon fill="#222" points="74,396.7 75.79,402.02 73.61,402.3"/>
<polygon fill="#222" points="69.4,437.7 67.61,432.38 69.79,432.1"/>
<text class="t" x="70.8" y="417" font-size="8.2" text-anchor="middle" transform="rotate(-82.7 70.8 417)">22</text>
<line class="d" x1="178.6" y1="366" x2="172.4" y2="399.8"/>
<polygon fill="#222" points="172.4,399.8 172.32,394.19 174.48,394.59"/>
<text class="t" x="174.6" y="380" font-size="8" text-anchor="middle" transform="rotate(-79.5 174.6 380)">R265</text>
<line class="d" x1="254.6" y1="404" x2="207.3" y2="436.2"/>
<polygon fill="#222" points="234.6,418 238.47,413.94 239.74,415.75"/>
<text class="t" x="245.2" y="409.4" font-size="8.5" text-anchor="middle" transform="rotate(-34 245.2 409.4)">R15</text>
<line class="d" x1="197.9" y1="416.2" x2="203" y2="424"/>
<polygon fill="#222" points="203.3,424.5 199.38,420.49 201.23,419.29"/>
<polyline class="d" points="215,443.8 231,472.2 300.4,472.2"/>
<polygon fill="#222" points="214.8,443.5 218.65,447.58 216.78,448.75"/>
<text class="sy" x="240.3" y="460.66" font-size="11.61" text-anchor="middle">⌀</text>
<text class="t" x="247.6" y="460.7" font-size="8" textLength="50.6" lengthAdjust="spacingAndGlyphs">6,6 SKRZ VŠE</text>
<polyline class="d" points="234.6,466 234.6,471 247.6,471 247.6,466"/>
<text class="sy" x="256" y="471.26" font-size="11.61" text-anchor="middle">⌀</text>
<text class="t" x="264.6" y="471.3" font-size="8">11</text>
<text class="sy" x="279.9" y="471.3" font-size="9" text-anchor="middle">↧</text>
<text class="t" x="288.4" y="471.3" font-size="8">4,6</text>
</g>
<g id="view-bottom">
<path d="M272.4,329.2 Q272.4,326.3 275.2,326.5 C305,329 350,338.5 403.1,344.3 A28.2,28.2 0 0 1 403.1,400.7 C350,404 305,414.5 275.2,418.3 Q272.4,418.6 272.4,415.7Z" fill="url(#gbot)"/>
<path d="M273.6,327.4 C305,330 350,339.4 403.1,345.2 A27.3,27.3 0 0 1 403.1,399.8 C350,403.1 305,413.5 273.6,417.4" fill="none" stroke="#6a0d12" stroke-width="3.3"/>
<path d="M273.6,327.4 C305,330 350,339.4 403.1,345.2 A27.3,27.3 0 0 1 403.1,399.8 C350,403.1 305,413.5 273.6,417.4" fill="none" stroke="#a5171e" stroke-width="1.7"/>
<line x1="272.8" y1="328" x2="272.8" y2="417" stroke="#2a2a2a" stroke-width="1"/>
<rect x="280" y="340.5" width="3.6" height="13.6" rx="1.8" fill="#5a5a5a" stroke="#1a1a1a" stroke-width=".8"/>
<rect x="280" y="390.4" width="3.6" height="13.6" rx="1.8" fill="#5a5a5a" stroke="#1a1a1a" stroke-width=".8"/>
<polygon points="415.4,372.5 409.25,383.15 396.95,383.15 390.8,372.5 396.95,361.85 409.25,361.85" fill="#6a6a6a" stroke="#151515" stroke-width="1.2"/>
<circle cx="403.1" cy="372.5" r="6.1" fill="#fff" stroke="#151515" stroke-width="1.1"/>
<line class="d" x1="388.1" y1="372.5" x2="393.1" y2="372.5"/>
<line class="d" x1="413.1" y1="372.5" x2="419.1" y2="372.5"/>
<line class="d" x1="403.1" y1="358" x2="403.1" y2="363.5"/>
<line class="d" x1="403.1" y1="381.5" x2="403.1" y2="387.5"/>
<line class="d" x1="399.6" y1="372.5" x2="406.6" y2="372.5"/>
<line class="d" x1="403.1" y1="369" x2="403.1" y2="376"/>
<line class="d" x1="411" y1="362" x2="453" y2="362"/>
<line class="d" x1="411" y1="383.2" x2="453" y2="383.2"/>
<line class="d" x1="450.6" y1="350.8" x2="450.6" y2="394.8"/>
<polygon fill="#222" points="450.6,362 449.5,356.5 451.7,356.5"/>
<polygon fill="#222" points="450.6,383.2 451.7,388.7 449.5,388.7"/>
<text class="t" x="448.4" y="372.8" font-size="9" text-anchor="middle" transform="rotate(-90 448.4 372.8)" letter-spacing=".9">(11)</text>
<polyline class="d" points="414.5,378.9 439.7,411.5 502.5,411.5"/>
<text class="t" x="441.2" y="409.2" font-size="8.4" textLength="15" lengthAdjust="spacingAndGlyphs">HEX</text>
<text class="sy" x="464" y="409.27" font-size="12.04" text-anchor="middle">⌀</text>
<text class="t" x="468.9" y="409.2" font-size="8.4" textLength="8.2" lengthAdjust="spacingAndGlyphs">11</text>
<text class="sy" x="485" y="409.2" font-size="9.4" text-anchor="middle">↧</text>
<text class="t" x="491" y="409.2" font-size="8.4" textLength="11.4" lengthAdjust="spacingAndGlyphs">4,6</text>
</g>
<g id="iso-1">
<path d="M543.2,108 C543.48,95.73 543.17,100.77 544.6,97 C546.03,93.23 548.7,88.6 551.8,85.4 C554.9,82.2 558.53,79.7 563.2,77.8 C567.87,75.9 574.33,74.42 579.8,74 C585.27,73.58 590.6,74.3 596,75.3 C601.4,76.3 606.8,78.02 612.2,80 C617.6,81.98 623.8,84.23 628.4,87.2 C633,90.17 636.83,94.13 639.8,97.8 C642.77,101.47 644.33,105.67 646.2,109.2 C648.07,112.73 649.12,115.95 651,119 C652.88,122.05 654.5,124.67 657.5,127.5 C660.5,130.33 665.28,132.83 669,136 C672.72,139.17 676.87,142.75 679.8,146.5 C682.73,150.25 685.13,154.42 686.6,158.5 C688.07,162.58 688.87,167.08 688.6,171 C688.33,174.92 686.93,179.07 685,182 C683.07,184.93 679.83,187.37 677,188.6 C674.17,189.83 670.67,189.8 668,189.4 C665.33,189 662.47,186.35 661,186.2 C659.53,186.05 659.97,186.8 659.2,188.5 C658.43,190.2 658,193.75 656.4,196.4 C654.8,199.05 651.75,202.67 649.6,204.4 C647.45,206.13 645.77,206.53 643.5,206.8 C641.23,207.07 638.58,206.53 636,206 C633.42,205.47 631.33,204.8 628,203.6 C624.67,202.4 620.25,200.13 616,198.8 C611.75,197.47 608.4,196.3 602.5,195.6 C596.6,194.9 587.07,195.2 580.6,194.6 C574.13,194 568.48,193.28 563.7,192 C558.92,190.72 555,189.05 551.9,186.9 C548.8,184.75 546.6,181.82 545.1,179.1 C543.6,176.38 543.22,182.45 542.9,170.6 C542.58,158.75 542.92,120.27 543.2,108Z" fill="url(#gi1)"/>
<path d="M543.2,108 C543.33,106.4 543.17,100.77 544.6,97 C546.03,93.23 548.7,88.6 551.8,85.4 C554.9,82.2 558.53,79.7 563.2,77.8 C567.87,75.9 574.33,74.42 579.8,74 C585.27,73.58 590.6,74.3 596,75.3 C601.4,76.3 606.8,78.02 612.2,80 C617.6,81.98 623.8,84.23 628.4,87.2 C633,90.17 636.83,94.13 639.8,97.8 C642.77,101.47 644.33,105.67 646.2,109.2 C648.07,112.73 649.12,115.95 651,119 C652.88,122.05 654.5,124.67 657.5,127.5 C660.5,130.33 665.28,132.83 669,136 C672.72,139.17 676.87,142.75 679.8,146.5 C682.73,150.25 685.13,154.42 686.6,158.5 C688.07,162.58 688.87,167.08 688.6,171 C688.33,174.92 686.93,179.07 685,182 C683.07,184.93 679.83,187.37 677,188.6 C674.17,189.83 670.67,189.8 668,189.4 C665.33,189 663.17,189.1 661,186.2 C658.83,183.3 656.87,172.62 655,172 C653.13,171.38 651.8,182.73 649.8,182.5 C647.8,182.27 645.82,174.27 643,170.6 C640.18,166.93 636.83,163.45 632.9,160.5 C628.97,157.55 623.9,155.15 619.4,152.9 C614.9,150.65 610.68,148.55 605.9,147 C601.12,145.45 596.05,144.87 590.7,143.6 C585.35,142.33 578.87,141.08 573.8,139.4 C568.73,137.72 564.23,135.88 560.3,133.5 C556.37,131.12 552.65,128.02 550.2,125.1 C547.75,122.18 546.67,119.08 545.6,116 C544.53,112.92 544.2,107.93 543.8,106.6 C543.4,105.27 543.07,109.6 543.2,108Z" fill="#4b4b4b"/>
<path d="M580.6,101.6 C582.18,100.08 584.92,99.03 587.5,98.6 C590.08,98.17 593.23,98.2 596.1,99 C598.97,99.8 600.72,100.7 604.7,103.4 C608.68,106.1 614.62,111.03 620,115.2 C625.38,119.37 631.42,124.87 637,128.4 C642.58,131.93 648.6,133.87 653.5,136.4 C658.4,138.93 662.75,140.67 666.4,143.6 C670.05,146.53 672.97,150.13 675.4,154 C677.83,157.87 680,162.88 681,166.8 C682,170.72 682.1,174.47 681.4,177.5 C680.7,180.53 678.8,183.27 676.8,185 C674.8,186.73 671.93,187.78 669.4,187.9 C666.87,188.02 663.67,187.35 661.6,185.7 C659.53,184.05 658.77,180.95 657,178 C655.23,175.05 653.25,171.08 651,168 C648.75,164.92 645.92,161.73 643.5,159.5 C641.08,157.27 640.08,157.02 636.5,154.6 C632.92,152.18 626.92,147.93 622,145 C617.08,142.07 611.57,138.97 607,137 C602.43,135.03 597.83,135.07 594.6,133.2 C591.37,131.33 589.73,128 587.6,125.8 C585.47,123.6 583.07,121.77 581.8,120 C580.53,118.23 580.63,117.25 580,115.2 C579.37,113.15 577.9,109.97 578,107.7 C578.1,105.43 579.02,103.12 580.6,101.6Z" fill="#4c4c4c"/>
<path d="M584,104 L592,101 L600,104 L604,130 L596,133 L587,124Z" fill="#3a3a3a" opacity=".8"/>
<path d="M631,97.4 C628.87,95.77 623.53,90.3 618.2,87.6 C612.87,84.9 604.87,82.4 599,81.2 C593.13,80 588.33,80 583,80.4 C577.67,80.8 571.53,81.87 567,83.6 C562.47,85.33 558.47,87.77 555.8,90.8 C553.13,93.83 551.27,98.1 551,101.8 C550.73,105.5 552.33,109.27 554.2,113 C556.07,116.73 559.27,121.03 562.2,124.2 C565.13,127.37 568.33,130.03 571.8,132 C575.27,133.97 581.13,135.33 583,136" fill="none" stroke="#8a8a8a" stroke-width="8.5" stroke-linejoin="round"/>
<path d="M573.6,109.8 C573.2,108.7 570.97,105.33 571.2,103.2 C571.43,101.07 573.03,98.57 575,97 C576.97,95.43 579.53,94.2 583,93.8 C586.47,93.4 591.8,93.8 595.8,94.6 C599.8,95.4 603.27,96.87 607,98.6 C610.73,100.33 615,102.97 618.2,105 C621.4,107.03 624.87,109.83 626.2,110.8" fill="none" stroke="#7c7c7c" stroke-width="11.5" stroke-linejoin="round"/>
<path d="M547.6,112 C547.53,110.17 546.53,104.42 547.2,101 C547.87,97.58 549.72,94.2 551.6,91.5 C553.48,88.8 557.35,85.92 558.5,84.8" fill="none" stroke="#b5b5b5" stroke-width="2.2"/>
<path d="M635.8,108.4 C635.03,106.03 633.93,100.87 631,97.4 C628.07,93.93 623.53,90.3 618.2,87.6 C612.87,84.9 604.87,82.4 599,81.2 C593.13,80 588.33,80 583,80.4 C577.67,80.8 571.53,81.87 567,83.6 C562.47,85.33 558.47,87.77 555.8,90.8 C553.13,93.83 551.27,98.1 551,101.8 C550.73,105.5 552.33,109.27 554.2,113 C556.07,116.73 559.27,121.03 562.2,124.2 C565.13,127.37 568.33,130.03 571.8,132 C575.27,133.97 579.63,135.4 583,136 C586.37,136.6 589.9,136.2 592,135.6 C594.1,135 595.77,134 595.6,132.4 C595.43,130.8 593.37,128.43 591,126 C588.63,123.57 584.3,120.5 581.4,117.8 C578.5,115.1 575.3,112.23 573.6,109.8 C571.9,107.37 570.97,105.33 571.2,103.2 C571.43,101.07 573.03,98.57 575,97 C576.97,95.43 579.53,94.2 583,93.8 C586.47,93.4 591.8,93.8 595.8,94.6 C599.8,95.4 603.27,96.87 607,98.6 C610.73,100.33 615,102.97 618.2,105 C621.4,107.03 623.83,109.47 626.2,110.8 C628.57,112.13 630.83,112.87 632.4,113 C633.97,113.13 635.03,112.37 635.6,111.6 C636.17,110.83 636.57,110.77 635.8,108.4Z" fill="url(#gi1w)" stroke="#0c0c0c" stroke-width="1.2"/>
<path d="M558.5,119.5 C559.08,118.67 560.42,115.78 562,114.5 C563.58,113.22 566.1,112.28 568,111.8 C569.9,111.32 572.5,111.63 573.4,111.6" fill="none" stroke="#c5151d" stroke-width="2.3"/>
<path d="M571.5,112 C572.12,109.42 574.78,109.17 575.5,112 C576.22,114.83 576.42,126.42 575.8,129 C575.18,131.58 572.52,130.33 571.8,127.5 C571.08,124.67 570.88,114.58 571.5,112Z" fill="#262626"/>
<ellipse cx="587" cy="91" rx="2.6" ry="2.1" fill="#f2f2f2"/>
<path d="M641.9,157.8 C643.27,157.83 646.05,161.37 648,164 C649.95,166.63 651.93,170.27 653.6,173.6 C655.27,176.93 657.17,181.2 658,184 C658.83,186.8 658.93,188.27 658.6,190.4 C658.27,192.53 657.5,194.47 656,196.8 C654.5,199.13 651.5,202.87 649.6,204.4 C647.7,205.93 644.7,207.23 644.6,206 C644.5,204.77 648,200.08 649,197 C650,193.92 650.78,191.08 650.6,187.5 C650.42,183.92 649.7,179.45 647.9,175.5 C646.1,171.55 640.8,166.75 639.8,163.8 C638.8,160.85 640.53,157.77 641.9,157.8Z" fill="url(#gi1b)"/>
<path d="M657.5,127.5 C660.08,127.43 665.28,132.83 669,136 C672.72,139.17 676.87,142.75 679.8,146.5 C682.73,150.25 685.13,154.42 686.6,158.5 C688.07,162.58 688.87,167.08 688.6,171 C688.33,174.92 686.93,179.07 685,182 C683.07,184.93 679.83,187.37 677,188.6 C674.17,189.83 669.27,189.52 668,189.4 C666.73,189.28 667.93,188.63 669.4,187.9 C670.87,187.17 674.8,186.73 676.8,185 C678.8,183.27 680.7,180.53 681.4,177.5 C682.1,174.47 682,170.72 681,166.8 C680,162.88 677.83,157.87 675.4,154 C672.97,150.13 670.05,146.53 666.4,143.6 C662.75,140.67 654.98,139.08 653.5,136.4 C652.02,133.72 654.92,127.57 657.5,127.5Z" fill="url(#gi1b)"/>
<path d="M651,119 C652.08,120.42 654.5,124.67 657.5,127.5 C660.5,130.33 665.28,132.83 669,136 C672.72,139.17 676.87,142.75 679.8,146.5 C682.73,150.25 685.13,154.42 686.6,158.5 C688.07,162.58 688.87,167.08 688.6,171 C688.33,174.92 686.93,179.07 685,182 C683.07,184.93 679.83,187.37 677,188.6 C674.17,189.83 670.67,189.8 668,189.4 C665.33,189 662.47,186.35 661,186.2 C659.53,186.05 659.97,186.8 659.2,188.5 C658.43,190.2 658,193.75 656.4,196.4 C654.8,199.05 651.75,202.67 649.6,204.4 C647.45,206.13 644.52,206.4 643.5,206.8" fill="none" stroke="#1a1a1a" stroke-width=".9"/>
<path d="M594.6,133.2 C596.67,133.83 602.43,135.03 607,137 C611.57,138.97 617.08,142.07 622,145 C626.92,147.93 632.92,152.18 636.5,154.6 C640.08,157.02 642.33,158.68 643.5,159.5" fill="none" stroke="#141414" stroke-width="1.4"/>
<path d="M543.8,106.6 C544.1,108.17 544.53,112.92 545.6,116 C546.67,119.08 547.75,122.18 550.2,125.1 C552.65,128.02 556.37,131.12 560.3,133.5 C564.23,135.88 568.73,137.72 573.8,139.4 C578.87,141.08 585.35,142.33 590.7,143.6 C596.05,144.87 601.12,145.45 605.9,147 C610.68,148.55 614.9,150.65 619.4,152.9 C623.9,155.15 628.97,157.55 632.9,160.5 C636.83,163.45 640.18,166.93 643,170.6 C645.82,174.27 648.42,178.77 649.8,182.5 C651.18,186.23 651.53,190 651.3,193 C651.07,196 649.68,198.6 648.4,200.5 C647.12,202.4 645.67,203.58 643.6,204.4 C641.53,205.22 637.27,205.23 636,205.4" fill="none" stroke="#7a0c12" stroke-width="5.1" stroke-linecap="round"/>
<path d="M636,205.4 C634.33,204.9 629.67,203.67 626,202.4 C622.33,201.13 617.92,199.1 614,197.8 C610.08,196.5 606.5,195.27 602.5,194.6 C598.5,193.93 594.25,194.1 590,193.8 C585.75,193.5 581.25,193.37 577,192.8 C572.75,192.23 568.17,191.47 564.5,190.4 C560.83,189.33 557.35,187.63 555,186.4 C552.65,185.17 551.17,183.57 550.4,183" fill="none" stroke="#7a0c12" stroke-width="4.1" stroke-linecap="round"/>
<path d="M543.8,106.6 C544.07,105.07 543.93,100.83 545.4,97.4 C546.87,93.97 549.53,89.12 552.6,86 C555.67,82.88 559.27,80.53 563.8,78.7 C568.33,76.87 574.47,75.42 579.8,75 C585.13,74.58 590.47,75.22 595.8,76.2 C601.13,77.18 606.47,78.92 611.8,80.9 C617.13,82.88 623.27,85.17 627.8,88.1 C632.33,91.03 637.13,96.77 639,98.5" fill="none" stroke="#7a0c12" stroke-width="4" stroke-linecap="round"/>
<path d="M594.4,132.2 C593.27,131.13 589.7,127.83 587.6,125.8 C585.5,123.77 583.07,121.77 581.8,120 C580.53,118.23 580.63,117.25 580,115.2 C579.37,113.15 577.9,109.97 578,107.7 C578.1,105.43 579.02,103.12 580.6,101.6 C582.18,100.08 584.92,99.03 587.5,98.6 C590.08,98.17 593.23,98.2 596.1,99 C598.97,99.8 600.72,100.7 604.7,103.4 C608.68,106.1 614.62,111.03 620,115.2 C625.38,119.37 631.42,124.87 637,128.4 C642.58,131.93 648.6,133.87 653.5,136.4 C658.4,138.93 662.75,140.67 666.4,143.6 C670.05,146.53 672.97,150.13 675.4,154 C677.83,157.87 680,162.88 681,166.8 C682,170.72 682.1,174.47 681.4,177.5 C680.7,180.53 678.8,183.27 676.8,185 C674.8,186.73 671.93,187.78 669.4,187.9 C666.87,188.02 662.9,186.07 661.6,185.7" fill="none" stroke="#7a0c12" stroke-width="4.9" stroke-linecap="round"/>
<path d="M543.8,106.6 C544.1,108.17 544.53,112.92 545.6,116 C546.67,119.08 547.75,122.18 550.2,125.1 C552.65,128.02 556.37,131.12 560.3,133.5 C564.23,135.88 568.73,137.72 573.8,139.4 C578.87,141.08 585.35,142.33 590.7,143.6 C596.05,144.87 601.12,145.45 605.9,147 C610.68,148.55 614.9,150.65 619.4,152.9 C623.9,155.15 628.97,157.55 632.9,160.5 C636.83,163.45 640.18,166.93 643,170.6 C645.82,174.27 648.42,178.77 649.8,182.5 C651.18,186.23 651.53,190 651.3,193 C651.07,196 649.68,198.6 648.4,200.5 C647.12,202.4 645.67,203.58 643.6,204.4 C641.53,205.22 637.27,205.23 636,205.4" fill="none" stroke="#e0181f" stroke-width="3.5" stroke-linecap="round"/>
<path d="M636,205.4 C634.33,204.9 629.67,203.67 626,202.4 C622.33,201.13 617.92,199.1 614,197.8 C610.08,196.5 606.5,195.27 602.5,194.6 C598.5,193.93 594.25,194.1 590,193.8 C585.75,193.5 581.25,193.37 577,192.8 C572.75,192.23 568.17,191.47 564.5,190.4 C560.83,189.33 557.35,187.63 555,186.4 C552.65,185.17 551.17,183.57 550.4,183" fill="none" stroke="#e0181f" stroke-width="2.5" stroke-linecap="round"/>
<path d="M543.8,106.6 C544.07,105.07 543.93,100.83 545.4,97.4 C546.87,93.97 549.53,89.12 552.6,86 C555.67,82.88 559.27,80.53 563.8,78.7 C568.33,76.87 574.47,75.42 579.8,75 C585.13,74.58 590.47,75.22 595.8,76.2 C601.13,77.18 606.47,78.92 611.8,80.9 C617.13,82.88 623.27,85.17 627.8,88.1 C632.33,91.03 637.13,96.77 639,98.5" fill="none" stroke="#e0181f" stroke-width="2.4" stroke-linecap="round"/>
<path d="M594.4,132.2 C593.27,131.13 589.7,127.83 587.6,125.8 C585.5,123.77 583.07,121.77 581.8,120 C580.53,118.23 580.63,117.25 580,115.2 C579.37,113.15 577.9,109.97 578,107.7 C578.1,105.43 579.02,103.12 580.6,101.6 C582.18,100.08 584.92,99.03 587.5,98.6 C590.08,98.17 593.23,98.2 596.1,99 C598.97,99.8 600.72,100.7 604.7,103.4 C608.68,106.1 614.62,111.03 620,115.2 C625.38,119.37 631.42,124.87 637,128.4 C642.58,131.93 648.6,133.87 653.5,136.4 C658.4,138.93 662.75,140.67 666.4,143.6 C670.05,146.53 672.97,150.13 675.4,154 C677.83,157.87 680,162.88 681,166.8 C682,170.72 682.1,174.47 681.4,177.5 C680.7,180.53 678.8,183.27 676.8,185 C674.8,186.73 671.93,187.78 669.4,187.9 C666.87,188.02 662.9,186.07 661.6,185.7" fill="none" stroke="#e0181f" stroke-width="3.3" stroke-linecap="round"/>
<path d="M639,98.5 C640.1,100.35 643.7,106.15 645.6,109.6 C647.5,113.05 648.6,116.37 650.4,119.2 C652.2,122.03 655.4,125.37 656.4,126.6" fill="none" stroke="#3a0a0c" stroke-width="1.3"/>
<ellipse cx="630.9" cy="182" rx="7.2" ry="9.4" fill="#8a8a8a" stroke="#111" stroke-width="1" transform="rotate(-28 630.9 182)"/>
<ellipse cx="632.6" cy="182.6" rx="4.6" ry="7.2" fill="#3c3c3c" transform="rotate(-28 632.6 182.6)"/>
<ellipse cx="634.6" cy="183" rx="1.6" ry="3.4" fill="#b0b0b0" transform="rotate(-28 634.6 183)"/>
<ellipse cx="660.4" cy="164.2" rx="4.1" ry="5.6" fill="#858585" stroke="#111" stroke-width=".9" transform="rotate(-28 660.4 164.2)"/>
<ellipse cx="661.4" cy="164.6" rx="2.2" ry="3.6" fill="#444" transform="rotate(-28 661.4 164.6)"/>
</g>
<g id="iso-2">
<path d="M610,256.2 C612.63,253.7 616.13,250.67 619.6,248.4 C623.07,246.13 627.07,243.97 630.8,242.6 C634.53,241.23 638.53,240.4 642,240.2 C645.47,240 648.93,240.53 651.6,241.4 C654.27,242.27 655.87,243.27 658,245.4 C660.13,247.53 661.73,250.07 664.4,254.2 C667.07,258.33 670.8,264.87 674,270.2 C677.2,275.53 680.4,281.4 683.6,286.2 C686.8,291 690.5,295.53 693.2,299 C695.9,302.47 698.23,304.33 699.8,307 C701.37,309.67 702.2,312.5 702.6,315 C703,317.5 702.77,319.47 702.2,322 C701.63,324.53 700.77,327.23 699.2,330.2 C697.63,333.17 696,336.6 692.8,339.8 C689.6,343 684.8,346.47 680,349.4 C675.2,352.33 669.33,355 664,357.4 C658.67,359.8 653.33,361.9 648,363.8 C642.67,365.7 637.33,366.9 632,368.8 C626.67,370.7 620.53,373.17 616,375.2 C611.47,377.23 608.05,379.2 604.8,381 C601.55,382.8 600.13,384.33 596.5,386 C592.87,387.67 587.33,390.33 583,391 C578.67,391.67 573.93,391.07 570.5,390 C567.07,388.93 564.38,386.7 562.4,384.6 C560.42,382.5 560.8,379.6 558.6,377.4 C556.4,375.2 552.03,374.07 549.2,371.4 C546.37,368.73 543.37,365 541.6,361.4 C539.83,357.8 538.88,352.7 538.6,349.8 C538.32,346.9 539.32,345.78 539.9,344 C540.48,342.22 540.73,341.32 542.1,339.1 C543.47,336.88 545.7,333.52 548.1,330.7 C550.5,327.88 553.68,324.82 556.5,322.2 C559.32,319.58 562.38,317.62 565,315 C567.62,312.38 569.98,309.32 572.2,306.5 C574.42,303.68 576.48,300.9 578.3,298.1 C580.12,295.3 581.3,292.47 583.1,289.7 C584.9,286.93 586.75,284.48 589.1,281.5 C591.45,278.52 594.75,274.82 597.2,271.8 C599.65,268.78 601.67,266 603.8,263.4 C605.93,260.8 607.37,258.7 610,256.2Z" fill="url(#gi2)"/>
<path d="M562,373.4 C564.17,372.27 567.87,372.37 571.6,370.6 C575.33,368.83 580.67,365.2 584.4,362.8 C588.13,360.4 591.07,358.63 594,356.2 C596.93,353.77 599.33,351.13 602,348.2 C604.67,345.27 606.87,342.37 610,338.6 C613.13,334.83 617.13,329.4 620.8,325.6 C624.47,321.8 627.47,318.77 632,315.8 C636.53,312.83 642.67,309.8 648,307.8 C653.33,305.8 658.67,304.6 664,303.8 C669.33,303 675.47,302.73 680,303 C684.53,303.27 688.1,304.13 691.2,305.4 C694.3,306.67 696.9,308.4 698.6,310.6 C700.3,312.8 701.23,315.6 701.4,318.6 C701.57,321.6 701.03,325.07 699.6,328.6 C698.17,332.13 696.07,336.33 692.8,339.8 C689.53,343.27 684.8,346.47 680,349.4 C675.2,352.33 669.33,355 664,357.4 C658.67,359.8 653.33,361.9 648,363.8 C642.67,365.7 637.33,366.9 632,368.8 C626.67,370.7 620.53,373.17 616,375.2 C611.47,377.23 608.05,379.2 604.8,381 C601.55,382.8 600.13,384.33 596.5,386 C592.87,387.67 587.33,390.33 583,391 C578.67,391.67 573.93,391.07 570.5,390 C567.07,388.93 564.38,386.7 562.4,384.6 C560.42,382.5 558.67,379.27 558.6,377.4 C558.53,375.53 559.83,374.53 562,373.4Z" fill="#2c2c2c"/>
<path d="M620.8,340 C622.05,337.57 627.47,331 632,327 C636.53,323 642.67,318.67 648,316 C653.33,313.33 658.67,312.1 664,311 C669.33,309.9 675.5,309.13 680,309.4 C684.5,309.67 688.37,311 691,312.6 C693.63,314.2 695.4,316.07 695.8,319 C696.2,321.93 695.5,326.47 693.4,330.2 C691.3,333.93 687.57,337.93 683.2,341.4 C678.83,344.87 672.27,348.37 667.2,351 C662.13,353.63 656.23,356.3 652.8,357.2 C649.37,358.1 646.6,357.47 646.6,356.4 C646.6,355.33 649.9,352.77 652.8,350.8 C655.7,348.83 660.8,346.7 664,344.6 C667.2,342.5 669.87,340.6 672,338.2 C674.13,335.8 676.5,332.37 676.8,330.2 C677.1,328.03 675.4,326.43 673.8,325.2 C672.2,323.97 670.17,323.03 667.2,322.8 C664.23,322.57 659.73,322.7 656,323.8 C652.27,324.9 648.8,327 644.8,329.4 C640.8,331.8 635.38,336.17 632,338.2 C628.62,340.23 626.37,341.3 624.5,341.6 C622.63,341.9 619.55,342.43 620.8,340Z" fill="url(#gi2w)" stroke="#0e0e0e" stroke-width="1.3"/>
<path d="M683.2,341.4 C681.32,344.4 672.27,348.37 667.2,351 C662.13,353.63 656.23,356.3 652.8,357.2 C649.37,358.1 646.6,357.47 646.6,356.4 C646.6,355.33 649.9,352.77 652.8,350.8 C655.7,348.83 660.8,346.7 664,344.6 C667.2,342.5 669.58,340.13 672,338.2 C674.42,336.27 676.63,332.47 678.5,333 C680.37,333.53 685.08,338.4 683.2,341.4Z" fill="#3a3a3a" opacity=".5"/>
<ellipse cx="686.6" cy="313.6" rx="1.6" ry="2.4" fill="#ddd" transform="rotate(-30 686.6 313.6)"/>
<path d="M562,373.4 C563.97,372.4 567.87,372.37 571.6,370.6 C575.33,368.83 580.67,365.2 584.4,362.8 C588.13,360.4 591.07,358.63 594,356.2 C596.93,353.77 599,350.23 602,348.2 C605,346.17 608.33,344.8 612,344 C615.67,343.2 619.33,344.98 624,343.4 C628.67,341.82 634.67,337.4 640,334.5 C645.33,331.6 651.43,327.68 656,326 C660.57,324.32 664.97,324.17 667.4,324.4 C669.83,324.63 670.4,326.13 670.6,327.4 C670.8,328.67 670.2,330.03 668.6,332 C667,333.97 664.27,336.57 661,339.2 C657.73,341.83 653.67,344.67 649,347.8 C644.33,350.93 638.33,354.57 633,358 C627.67,361.43 622.17,365.07 617,368.4 C611.83,371.73 606.37,375.23 602,378 C597.63,380.77 594.27,383.33 590.8,385 C587.33,386.67 584.67,387.73 581.2,388 C577.73,388.27 573.17,387.6 570,386.6 C566.83,385.6 563.9,383.67 562.2,382 C560.5,380.33 559.83,378.03 559.8,376.6 C559.77,375.17 560.03,374.4 562,373.4Z" fill="#303030"/>
<ellipse cx="644.6" cy="253.2" rx="5.6" ry="2.5" fill="#262626" stroke="#111" stroke-width=".8" transform="rotate(50 644.6 253.2)"/>
<ellipse cx="668.4" cy="289.4" rx="5.6" ry="2.5" fill="#262626" stroke="#111" stroke-width=".8" transform="rotate(50 668.4 289.4)"/>
<polygon points="553.6,343.4 560.8,337.4 570.4,339.6 572.6,349.4 565.6,356.6 555.6,354" fill="#2f2f2f" stroke="#141414" stroke-width="1"/>
<polygon points="555.4,344.6 561.4,339.6 569,341.4 570.8,349 565,354.6 557,352.6" fill="#454545"/>
<ellipse cx="564.6" cy="348.6" rx="4.2" ry="4.6" fill="#6a6a6a" stroke="#1c1c1c" stroke-width=".9"/>
<path d="M539.6,345 C539.65,344.83 539.48,344.98 539.9,344 C540.32,343.02 540.73,341.32 542.1,339.1 C543.47,336.88 545.7,333.52 548.1,330.7 C550.5,327.88 553.68,324.82 556.5,322.2 C559.32,319.58 562.38,317.62 565,315 C567.62,312.38 569.98,309.32 572.2,306.5 C574.42,303.68 576.48,300.9 578.3,298.1 C580.12,295.3 581.3,292.47 583.1,289.7 C584.9,286.93 586.75,284.48 589.1,281.5 C591.45,278.52 594.75,274.82 597.2,271.8 C599.65,268.78 601.67,266 603.8,263.4 C605.93,260.8 607.37,258.7 610,256.2 C612.63,253.7 616.13,250.67 619.6,248.4 C623.07,246.13 627.07,243.97 630.8,242.6 C634.53,241.23 638.53,240.4 642,240.2 C645.47,240 648.93,240.53 651.6,241.4 C654.27,242.27 655.87,243.27 658,245.4 C660.13,247.53 663.33,252.73 664.4,254.2" fill="none" stroke="#6b1015" stroke-width="1.6"/>
<path d="M664.4,254.2 C666,256.87 670.8,264.87 674,270.2 C677.2,275.53 680.4,281.4 683.6,286.2 C686.8,291 690.5,295.53 693.2,299 C695.9,302.47 698.23,304.33 699.8,307 C701.37,309.67 702.2,312.5 702.6,315 C703,317.5 702.77,319.47 702.2,322 C701.63,324.53 700.77,327.23 699.2,330.2 C697.63,333.17 696,336.6 692.8,339.8 C689.6,343 684.8,346.47 680,349.4 C675.2,352.33 669.33,355 664,357.4 C658.67,359.8 653.33,361.9 648,363.8 C642.67,365.7 637.33,366.9 632,368.8 C626.67,370.7 620.53,373.17 616,375.2 C611.47,377.23 608.05,379.2 604.8,381 C601.55,382.8 600.13,384.33 596.5,386 C592.87,387.67 587.33,390.33 583,391 C578.67,391.67 573.93,391.07 570.5,390 C567.07,388.93 563.75,385.5 562.4,384.6" fill="none" stroke="#1c1c1c" stroke-width=".9"/>
<path d="M539.6,345 C539.9,346.83 540.4,352.67 541.4,356 C542.4,359.33 543.58,362.43 545.6,365 C547.62,367.57 550.77,370 553.5,371.4 C556.23,372.8 558.98,373.53 562,373.4 C565.02,373.27 567.87,372.37 571.6,370.6 C575.33,368.83 580.67,365.2 584.4,362.8 C588.13,360.4 591.07,358.63 594,356.2 C596.93,353.77 599.33,351.13 602,348.2 C604.67,345.27 606.87,342.37 610,338.6 C613.13,334.83 617.13,329.4 620.8,325.6 C624.47,321.8 627.47,318.77 632,315.8 C636.53,312.83 642.67,309.8 648,307.8 C653.33,305.8 658.67,304.6 664,303.8 C669.33,303 675.47,302.73 680,303 C684.53,303.27 688.1,304.13 691.2,305.4 C694.3,306.67 696.9,308.4 698.6,310.6 C700.3,312.8 701.23,315.6 701.4,318.6 C701.57,321.6 699.9,326.93 699.6,328.6" fill="none" stroke="#6f0b11" stroke-width="5.5" stroke-linecap="round"/>
<path d="M559.8,376.6 C560.2,377.5 560.5,380.33 562.2,382 C563.9,383.67 566.83,385.6 570,386.6 C573.17,387.6 577.73,388.27 581.2,388 C584.67,387.73 587.33,386.67 590.8,385 C594.27,383.33 597.63,380.77 602,378 C606.37,375.23 611.83,371.73 617,368.4 C622.17,365.07 627.67,361.43 633,358 C638.33,354.57 644.33,350.93 649,347.8 C653.67,344.67 657.73,341.83 661,339.2 C664.27,336.57 667,333.97 668.6,332 C670.2,330.03 670.8,328.67 670.6,327.4 C670.4,326.13 667.93,324.9 667.4,324.4" fill="none" stroke="#6f0b11" stroke-width="5" stroke-linecap="round"/>
<path d="M539.6,345 C539.9,346.83 540.4,352.67 541.4,356 C542.4,359.33 543.58,362.43 545.6,365 C547.62,367.57 550.77,370 553.5,371.4 C556.23,372.8 558.98,373.53 562,373.4 C565.02,373.27 567.87,372.37 571.6,370.6 C575.33,368.83 580.67,365.2 584.4,362.8 C588.13,360.4 591.07,358.63 594,356.2 C596.93,353.77 599.33,351.13 602,348.2 C604.67,345.27 606.87,342.37 610,338.6 C613.13,334.83 617.13,329.4 620.8,325.6 C624.47,321.8 627.47,318.77 632,315.8 C636.53,312.83 642.67,309.8 648,307.8 C653.33,305.8 658.67,304.6 664,303.8 C669.33,303 675.47,302.73 680,303 C684.53,303.27 688.1,304.13 691.2,305.4 C694.3,306.67 696.9,308.4 698.6,310.6 C700.3,312.8 701.23,315.6 701.4,318.6 C701.57,321.6 699.9,326.93 699.6,328.6" fill="none" stroke="#c2161d" stroke-width="3.9" stroke-linecap="round"/>
<path d="M559.8,376.6 C560.2,377.5 560.5,380.33 562.2,382 C563.9,383.67 566.83,385.6 570,386.6 C573.17,387.6 577.73,388.27 581.2,388 C584.67,387.73 587.33,386.67 590.8,385 C594.27,383.33 597.63,380.77 602,378 C606.37,375.23 611.83,371.73 617,368.4 C622.17,365.07 627.67,361.43 633,358 C638.33,354.57 644.33,350.93 649,347.8 C653.67,344.67 657.73,341.83 661,339.2 C664.27,336.57 667,333.97 668.6,332 C670.2,330.03 670.8,328.67 670.6,327.4 C670.4,326.13 667.93,324.9 667.4,324.4" fill="none" stroke="#c2161d" stroke-width="3.4" stroke-linecap="round"/>
</g>
<g id="title-block">
<rect x="421.3" y="428" width="318.7" height="100" fill="#fff"/>
<line class="tl" x1="421.3" y1="429.1" x2="740" y2="429.1"/>
<line class="tl" x1="421.3" y1="429.1" x2="421.3" y2="528.1"/>
<line class="tl" x1="483.6" y1="429.1" x2="483.6" y2="446.2"/>
<line class="tl" x1="483.6" y1="437.6" x2="704.3" y2="437.6"/>
<line class="tl" x1="421.3" y1="446.2" x2="704.3" y2="446.2"/>
<line class="tl" x1="421.3" y1="454.6" x2="704.3" y2="454.6"/>
<line class="tl" x1="421.3" y1="463.2" x2="740" y2="463.2"/>
<line class="tl" x1="515.4" y1="446.2" x2="515.4" y2="528.1"/>
<line class="tl" x1="608.3" y1="437.6" x2="608.3" y2="463.2"/>
<line class="tl" x1="704.3" y1="429.1" x2="704.3" y2="463.2"/>
<line class="tl" x1="515.4" y1="495.3" x2="740" y2="495.3"/>
<line class="tl" x1="683.6" y1="495.3" x2="683.6" y2="528.1"/>
<line class="tl" x1="715.5" y1="495.3" x2="715.5" y2="520.6"/>
<line class="tl" x1="683.6" y1="520.6" x2="740" y2="520.6"/>
<text class="s" x="423" y="435.2" style="font-size:4.5px" text-anchor="start">PROMÍTÁNÍ</text>
<text class="s" x="485.6" y="435.2" style="font-size:4.5px" text-anchor="start">POLOTOVAR:</text>
<text class="s" x="485.6" y="443.4" style="font-size:4.5px" text-anchor="start">MATERIÁL:</text>
<text class="s" x="516.3" y="443.4" style="font-size:5px" text-anchor="start">Obyčejná uhlíková ocel</text>
<text class="s" x="423" y="451.8" style="font-size:4.5px" text-anchor="start">VYPRACOVAL:</text>
<text class="s" x="460.8" y="451.8" style="font-size:5px" text-anchor="start">Pagáč Marek</text>
<text class="s" x="516.3" y="451.8" style="font-size:4.5px" text-anchor="start">SCHVÁLIL:</text>
<text class="s" x="423" y="460.6" style="font-size:4.5px" text-anchor="start">KONTROLOVAL:</text>
<text class="s" x="516.3" y="460.6" style="font-size:4.5px" text-anchor="start">DATUM:</text>
<text class="s" x="516.3" y="468.6" style="font-size:4.5px" text-anchor="start">NÁZEV</text>
<text class="s" x="516.3" y="502" style="font-size:4.5px" text-anchor="start">ČÍSLO VÝKRESU</text>
<text class="s" x="610" y="442.8" style="font-size:4.5px" text-anchor="start">TOLEROVÁNÍ</text>
<text class="s" x="646" y="442.8" style="font-size:4.5px" text-anchor="start">ISO 8015</text>
<text class="s" x="673.5" y="442.8" style="font-size:4.5px" text-anchor="start">ANO</text>
<text class="s" x="610" y="452" style="font-size:4.5px" text-anchor="start">NETOLEROVANÉ ROZMĚRY ISO 2768 m K</text>
<text class="s" x="610" y="460.4" style="font-size:4.5px" text-anchor="start">HMOTNOST: 0.48 kg</text>
<text class="s" x="720.6" y="440.2" style="font-size:4.7px" text-anchor="middle">MĚŘÍTKO</text>
<text class="s" x="727.4" y="501.8" style="font-size:4.7px" text-anchor="middle">FORMÁT</text>
<text class="s" x="710.6" y="526.6" style="font-size:4.8px" text-anchor="middle">LIST 1 Z 1 LISTŮ</text>
<g stroke="#d8d8d8" stroke-width=".7" fill="none"><path d="M452.6,431.4 L462,433.4 L462,441.6 L452.6,443.6Z"/><circle cx="471.8" cy="437.5" r="5.6"/><circle cx="471.8" cy="437.5" r="2.8"/><path d="M448.5,437.5 L480,437.5 M471.8,430 L471.8,445"/></g>
<text class="tb" x="532.2" y="486.8" font-size="18.2" text-anchor="start" textLength="164.5" lengthAdjust="spacingAndGlyphs">MODEL MANIA 2023</text>
<text class="tb" x="532.2" y="521.3" font-size="17.4" text-anchor="start" textLength="76.4" lengthAdjust="spacingAndGlyphs">20230326</text>
<text class="tb" x="720.8" y="454.6" font-size="12.4" text-anchor="middle">1:1</text>
<text class="tb" x="727.6" y="516" font-size="12.4" text-anchor="middle">A3</text>
<text x="427.8" y="498" font-size="10.7" font-weight="bold" textLength="81" lengthAdjust="spacingAndGlyphs"><tspan fill="#e8141c">Muj</tspan><tspan fill="#1c2fd0">solidworks.cz</tspan></text>
</g>
</svg>
</body>
</html>
